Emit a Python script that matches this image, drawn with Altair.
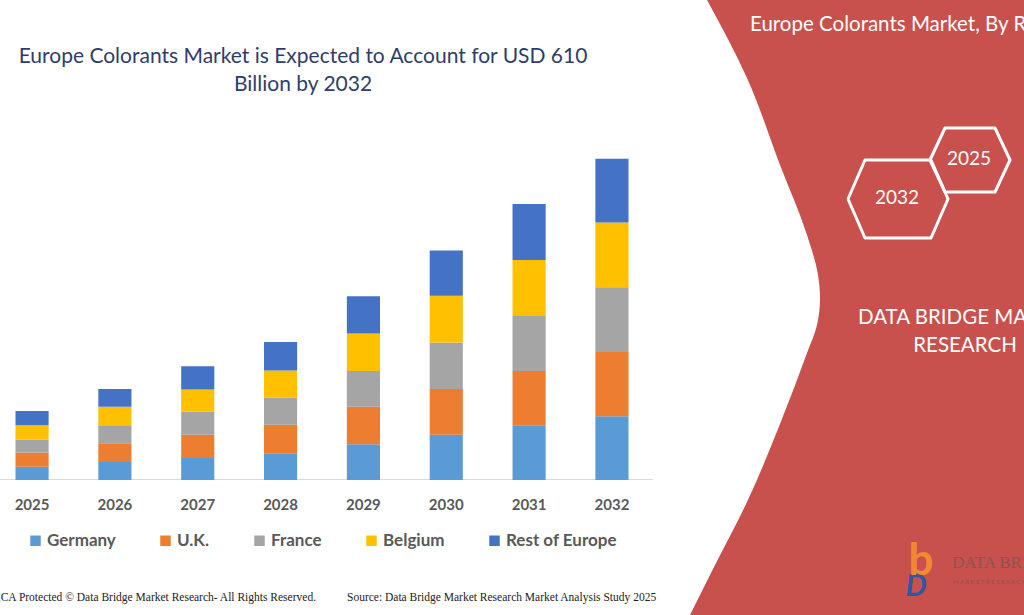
import altair as alt
import pandas as pd

# ---- market values (USD billion) per region and year ----
years = ["2025", "2026", "2027", "2028", "2029", "2030", "2031", "2032"]
regions = ["Germany", "U.K.", "France", "Belgium", "Rest of Europe"]
germany = [25, 34, 42, 51, 68, 86, 104, 121]
uk = [27, 36, 44, 54, 71, 87, 103, 122]
france = [25, 34, 44, 51, 68, 88, 106, 123]
belgium = [27, 35, 42, 52, 71, 89, 105, 123]
rest_of_europe = [27, 34, 44, 54, 71, 86, 106, 121]
region_colors = ["#5b9bd5", "#ed7d31", "#a5a5a5", "#ffc000", "#4472c4"]

series = [germany, uk, france, belgium, rest_of_europe]
rows = []
for idx, (name, vals) in enumerate(zip(regions, series)):
    for yr, v in zip(years, vals):
        rows.append({"year": yr, "region": name, "value": v, "idx": idx})
bars_df = pd.DataFrame(rows)
years_df = pd.DataFrame({"year": years})

W, H = 1024, 615

# ---- decorative red panel outline (page pixels) ----
panel_edge_y = [0, 78, 165, 235, 275, 298, 325, 353, 424, 502, 569, 615]
panel_edge_x = [707, 747, 780, 807, 818, 820, 817, 807, 780, 747, 713, 690]
panel_df = pd.DataFrame({"px": panel_edge_x, "py": panel_edge_y})
panel_df["px_right"] = W

# ---- hexagon badges: centre x, centre y, half width, half height, half top edge ----
badges = [("2032", 898, 199, 50, 39, 33), ("2025", 970, 160, 40, 32, 25)]
hex_rows = []
for label, cx, cy, hw, hh, ht in badges:
    pts = [(-hw, 0), (-ht, -hh), (ht, -hh), (hw, 0), (ht, hh), (-ht, hh), (-hw, 0)]
    for k, (dx, dy) in enumerate(pts):
        hex_rows.append({"badge": label, "k": k, "px": cx + dx, "py": cy + dy})
hex_df = pd.DataFrame(hex_rows)

PANEL_RED = "#c9514d"
FONT = "Lato"

px_scale = alt.Scale(domain=[0, W], range=[0, W], nice=False, zero=False)
py_scale = alt.Scale(domain=[0, H], range=[0, H], nice=False, zero=False)
year_scale = alt.Scale(type="band", domain=years, range=[0, 644],
                       paddingInner=0.6, paddingOuter=0.187)
value_scale = alt.Scale(domain=[0, 640], range=[480, 143], nice=False)

panel = alt.Chart(panel_df).mark_area(
    orient="horizontal", interpolate="monotone", color=PANEL_RED
).encode(
    y=alt.Y("py:Q", scale=py_scale, axis=None),
    x=alt.X("px:Q", scale=px_scale, axis=None),
    x2="px_right:Q",
)

hexes = alt.Chart(hex_df).mark_line(
    color="white", strokeWidth=3, strokeJoin="round"
).encode(
    x=alt.X("px:Q", scale=px_scale, axis=None),
    y=alt.Y("py:Q", scale=py_scale, axis=None),
    detail="badge:N",
    order="k:Q",
)


def label(text, x, y, size, color, align="center", weight="normal",
          font=FONT, style="normal"):
    return alt.Chart(pd.DataFrame({"t": [text]})).mark_text(
        align=align, baseline="middle", fontSize=size, color=color,
        fontWeight=weight, font=font, fontStyle=style,
    ).encode(x=alt.value(x), y=alt.value(y), text="t:N")


title_color = "#2f3d6b"
texts = [
    label("Europe Colorants Market is Expected to Account for USD 610", 303, 57, 21, title_color),
    label("Billion by 2032", 303, 85, 21, title_color),
    label("Europe Colorants Market, By Region", 750, 25, 20.5, "white", align="left"),
    label("2032", 897, 198, 19, "white"),
    label("2025", 969, 159, 19, "white"),
    label("DATA BRIDGE MARKET", 858, 318, 20.5, "white", align="left"),
    label("RESEARCH", 965, 346, 20.5, "white"),
    label("DMCA Protected \u00a9 Data Bridge Market Research-  All Rights Reserved.",
          316, 598, 11.5, "#222222", align="right", font="Liberation Serif"),
    label("Source: Data Bridge Market Research Market Analysis Study 2025",
          347, 598, 11.5, "#222222", align="left", font="Liberation Serif"),
    # corner logo
    label("D", 916, 587, 30, "#2f57a5", weight="bold", style="italic"),
    label("b", 921, 562, 44, "#f08a32", weight="bold"),
    label("DATA BRIDGE", 952, 563, 17, "#8c5450", align="left", font="Liberation Serif"),
    label("M A R K E T   R E S E A R C H", 953, 582, 6, "#8c5450", align="left"),
]

baseline = alt.Chart(pd.DataFrame({"a": [0]})).mark_rule(
    color="#d9d9d9", strokeWidth=1
).encode(x=alt.value(0), x2=alt.value(653), y=alt.value(479.5))

bars = alt.Chart(bars_df).mark_bar().encode(
    x=alt.X("year:O", scale=year_scale, axis=None),
    y=alt.Y("value:Q", stack="zero", scale=value_scale, axis=None),
    color=alt.Color(
        "region:N",
        scale=alt.Scale(domain=regions, range=region_colors),
        legend=alt.Legend(
            title=None, orient="none", legendX=27, legendY=532,
            direction="horizontal", symbolType="square", symbolSize=110,
            symbolStrokeWidth=0, labelFont=FONT, labelFontSize=17,
            labelFontWeight="bold", labelColor="#595959", columnPadding=41,
            labelOffset=3,
        ),
    ),
    order=alt.Order("idx:Q", sort="ascending"),
)

year_labels = alt.Chart(years_df).mark_text(
    font=FONT, fontSize=15, fontWeight="bold", color="#595959", baseline="middle"
).encode(
    x=alt.X("year:O", scale=year_scale, axis=None),
    y=alt.value(505),
    text="year:N",
)

chart = alt.layer(
    panel, hexes, *texts, baseline, bars, year_labels
).resolve_scale(
    x="independent", y="independent"
).properties(
    width=W, height=H, padding=0,
    autosize=alt.AutoSizeParams(type="none"),
    background="white",
).configure_view(stroke=None)

chart.save("out.html", embed_options={"renderer": "svg", "actions": False})
